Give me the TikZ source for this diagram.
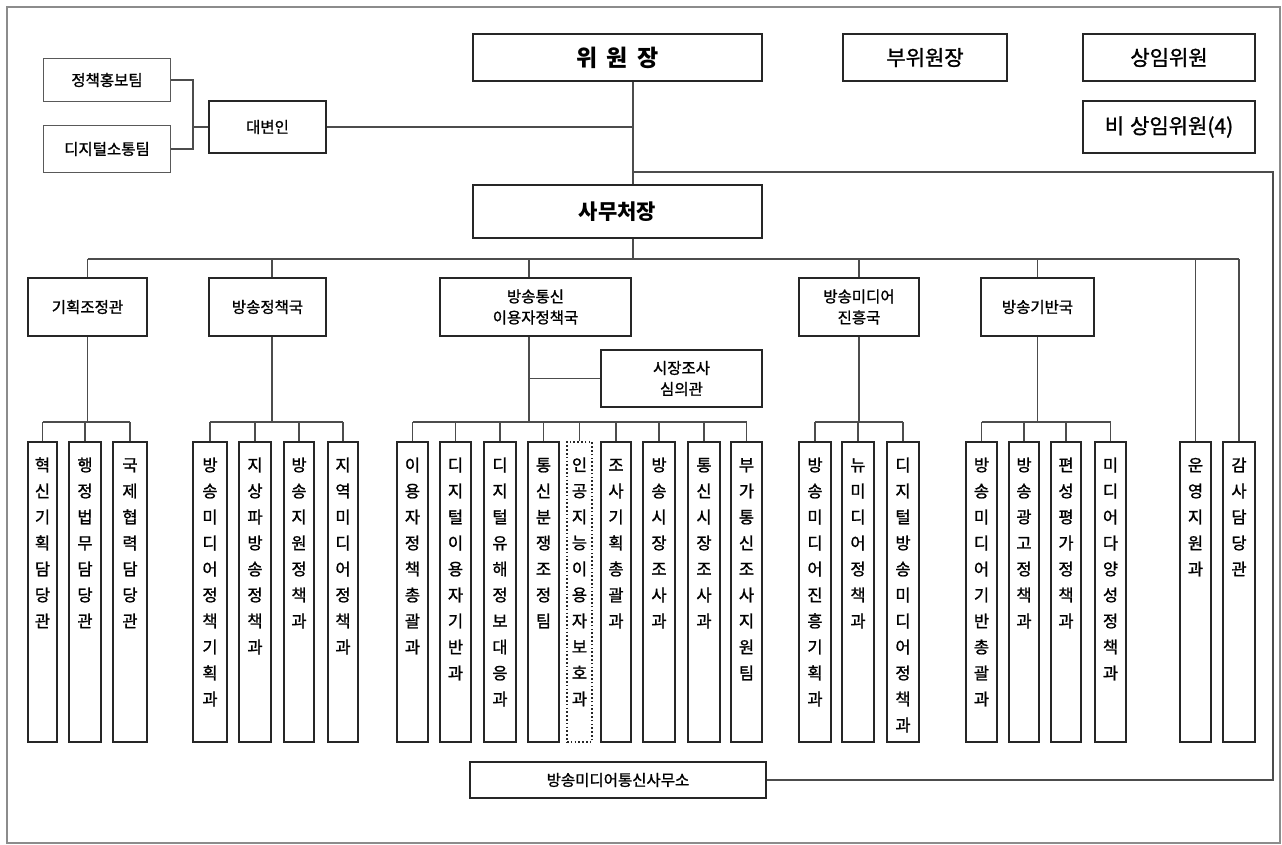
\documentclass[tikz,border=0pt]{standalone}
\usepackage{fontspec}
\setmainfont{Noto Sans CJK KR}
\newfontfamily\krmed{Noto Sans CJK KR}[FakeBold=1.2]
\ExplSyntaxOn
\NewDocumentCommand\leafstack{m}{
  \tl_set:Nx \l_tmpa_tl {#1}
  \vbox_to_ht:nn {300pt} {
    \skip_vertical:n {3pt}
    \hbox:n {}
    \tl_map_inline:Nn \l_tmpa_tl { \hbox_to_wd:nn {20pt} { \hss ##1 \hss } }
    \vfill
  }
}
\ExplSyntaxOff
\begin{document}
\begin{tikzpicture}[x=1pt,y=-1pt,
  box/.style={draw=black!85, line width=2.4pt, inner sep=0pt, align=center, fill=white},
  thinbox/.style={draw=black!65, line width=1.6pt, inner sep=0pt, align=center, fill=white},
  leaf/.style={draw=black!85, line width=2.4pt, inner sep=0pt, anchor=north, fill=white,
    font=\krmed\fontsize{16.5}{26}\selectfont},
  leafdot/.style={leaf, line width=2pt, dash pattern=on 1.6pt off 2.2pt},
  conn/.style={draw=black!70, line width=1.3pt},
  framec/.style={draw=black!45, line width=1.5pt},
  big/.style={font=\fontsize{23}{26}\selectfont\bfseries},
  mid/.style={font=\krmed\fontsize{21}{24}\selectfont},
  lab/.style={font=\krmed\fontsize{15.5}{21}\selectfont}
]
\useasboundingbox (0,0) rectangle (1282,845);
\draw[framec] (7,7) rectangle (1280,843);

% top level
\node[box, big, minimum width=289, minimum height=47] (wj) at (617.5,57.5) {위\hspace{9pt}원\hspace{9pt}장};
\node[box, mid, minimum width=164, minimum height=47] (bw) at (925,57.5) {부위원장};
\node[box, mid, minimum width=172, minimum height=47] (si) at (1169,57.5) {상임위원};
\node[box, mid, minimum width=172, minimum height=52] (bs) at (1169,127) {비\hspace{6pt}상임위원(4)};
\node[thinbox, lab, minimum width=127, minimum height=43] (pr) at (107,80) {정책홍보팀};
\node[thinbox, lab, minimum width=127, minimum height=47] (dg) at (107,149) {디지털소통팀};
\node[box, lab, minimum width=117, minimum height=52] (spk) at (267.5,127) {대변인};
\node[box, font=\fontsize{21}{24}\selectfont\bfseries, minimum width=289, minimum height=53] (sm) at (617.5,211.5) {사무처장};

% directors
\node[box, lab, minimum width=119, minimum height=58] (d1) at (87.5,307) {기획조정관};
\node[box, lab, minimum width=117, minimum height=58] (d2) at (267.5,307) {방송정책국};
\node[box, lab, minimum width=191, minimum height=58] (d3) at (535.5,307) {방송통신\\이용자정책국};
\node[box, lab, minimum width=161, minimum height=57] (mk) at (681.5,378.5) {시장조사\\심의관};
\node[box, lab, minimum width=120, minimum height=58] (d4) at (859,307) {방송미디어\\진흥국};
\node[box, lab, minimum width=113, minimum height=58] (d5) at (1037.5,307) {방송기반국};
\node[box, lab, line width=2pt, minimum width=296, minimum height=36] (office) at (618,780) {방송미디어통신사무소};

% leaves
\foreach \nm/\xl/\xr/\txt in {
  a1/27/58/혁신기획담당관, a2/68/102/행정법무담당관, a3/112/148/국제협력담당관,
  b1/192/228/방송미디어정책기획과, b2/238/272/지상파방송정책과, b3/283/315/방송지원정책과, b4/327/359/지역미디어정책과,
  c1/396/429/이용자정책총괄과, c2/439/472/디지털이용자기반과, c3/483/517/디지털유해정보대응과, c4/527/560/통신분쟁조정팀,
  c6/600/632/조사기획총괄과, c7/642/676/방송시장조사과, c8/687/721/통신시장조사과, c9/730/763/부가통신조사지원팀,
  f1/798/832/방송미디어진흥기획과, f2/841/875/뉴미디어정책과, f3/886/920/디지털방송미디어정책과,
  g1/965/998/방송미디어기반총괄과, g2/1008/1040/방송광고정책과, g3/1050/1082/편성평가정책과, g4/1094/1127/미디어다양성정책과,
  e1/1179/1212/운영지원과, e2/1222/1256/감사담당관}
{
  \node[leaf, minimum width={\xr-\xl-2.4}] (\nm) at ({(\xl+\xr)/2},441) {\leafstack{\txt}};
}
\node[leafdot, minimum width=25] (c5) at (579.5,441) {\leafstack{인공지능이용자보호과}};

% helper coordinates
\coordinate (spine) at (633,0);
\coordinate (tj) at (193,127);
\coordinate (rc) at (1273,172);
\coordinate (busy) at (0,259);
\coordinate (sbusy) at (0,422);
\coordinate (d2x) at (272,0);
\coordinate (d3x) at (529,0);

% upper connectors
\draw[conn] (pr.east) -| (tj) |- (dg.east);
\draw[conn] (tj) -- (spk.west);
\draw[conn] (spk.east) -- (spk.east -| spine);
\draw[conn] (wj.south -| spine) -- (sm.north -| spine);
\draw[conn] (spine |- rc) -- (rc) |- (office.east);
\draw[conn] (sm.south -| spine) -- (spine |- busy);

% main bus
\draw[conn] (d1.north |- busy) -- (e2.north |- busy);
\draw[conn] (d1.north |- busy) -- (d1.north);
\draw[conn] (d2x |- busy) -- (d2.north -| d2x);
\draw[conn] (d3x |- busy) -- (d3.north -| d3x);
\draw[conn] (d4.north |- busy) -- (d4.north);
\draw[conn] (d5.north |- busy) -- (d5.north);
\draw[conn] (e1.north |- busy) -- (e1.north);
\draw[conn] (e2.north |- busy) -- (e2.north);

% group 1
\draw[conn] (d1.south) -- (d1.south |- sbusy);
\draw[conn] (a1.north |- sbusy) -- (a3.north |- sbusy);
\foreach \lf in {a1,a2,a3} \draw[conn] (\lf.north |- sbusy) -- (\lf.north);
% group 2
\draw[conn] (d2.south -| d2x) -- (d2x |- sbusy);
\draw[conn] (b1.north |- sbusy) -- (b4.north |- sbusy);
\foreach \lf in {b1,b2,b3,b4} \draw[conn] (\lf.north |- sbusy) -- (\lf.north);
% group 3
\draw[conn] (d3.south -| d3x) -- (d3x |- sbusy);
\draw[conn] (d3x |- mk.west) -- (mk.west);
\draw[conn] (c1.north |- sbusy) -- (c9.north |- sbusy);
\foreach \lf in {c1,c2,c3,c4,c5,c6,c7,c8,c9} \draw[conn] (\lf.north |- sbusy) -- (\lf.north);
% group 4
\draw[conn] (d4.south) -- (d4.south |- sbusy);
\draw[conn] (f1.north |- sbusy) -- (f3.north |- sbusy);
\foreach \lf in {f1,f2,f3} \draw[conn] (\lf.north |- sbusy) -- (\lf.north);
% group 5
\draw[conn] (d5.south) -- (d5.south |- sbusy);
\draw[conn] (g1.north |- sbusy) -- (g4.north |- sbusy);
\foreach \lf in {g1,g2,g3,g4} \draw[conn] (\lf.north |- sbusy) -- (\lf.north);
\end{tikzpicture}
\end{document}
